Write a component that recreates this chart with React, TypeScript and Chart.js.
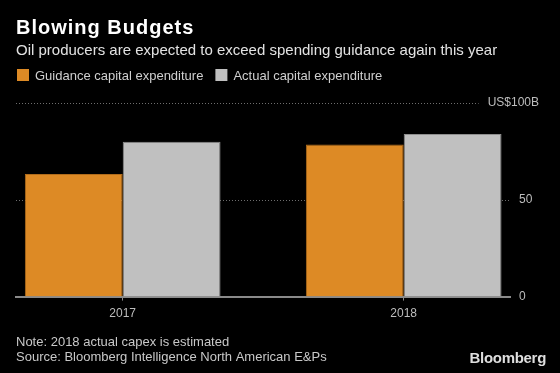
import React, { useEffect, useRef } from 'react';
import { Chart, registerables } from 'chart.js';

Chart.register(...registerables);

// ---- data ----
const years = ['2017', '2018'];
const guidance = [63.3, 78.6];
const actual = [80.0, 84.0];
const seriesNames = ['Guidance capital expenditure', 'Actual capital expenditure'];
const yTickValues = [0, 50, 100];
const yTickLabels = ['0', '50', 'US$100B'];
const titleText = 'Blowing Budgets';
const subtitleText = 'Oil producers are expected to exceed spending guidance again this year';
const footerLines = ['Note: 2018 actual capex is estimated', 'Source: Bloomberg Intelligence North American E&Ps'];
const logoText = 'Bloomberg';

// ---- styles ----
const FAMILY = '"Liberation Sans", Arial, sans-serif';
const ORANGE = '#dd8a25';
const ORANGE_EDGE = '#b06c1c';
const GRAY = '#c0c0c0';
const GRAY_EDGE = '#8e8e8e';
const AXIS = '#8a8a8a';
const GRID = '#6e6e6e';
const LABEL = '#bdbdbd';

function yLabelX(ctx: CanvasRenderingContext2D, text: string, right: number) {
  const w = ctx.measureText(text).width;
  return Math.min(right + 9, right + 29 - w);
}

const decor = {
  id: 'decor',
  beforeDatasetsDraw(chart: any) {
    const { ctx, chartArea } = chart;
    const y = chart.scales.y;
    ctx.save();
    ctx.font = `12px ${FAMILY}`;
    ctx.strokeStyle = GRID;
    ctx.lineWidth = 1;
    ctx.setLineDash([1, 2]);
    yTickValues.forEach((v, i) => {
      if (v === 0) return;
      const py = Math.round(y.getPixelForValue(v)) + 0.5;
      const lx = yLabelX(ctx, yTickLabels[i], chartArea.right);
      ctx.beginPath();
      ctx.moveTo(chartArea.left, py);
      ctx.lineTo(lx - 9, py);
      ctx.stroke();
    });
    ctx.restore();
  },
  afterDraw(chart: any) {
    const { ctx, chartArea } = chart;
    const y = chart.scales.y;
    ctx.save();
    ctx.textAlign = 'left';
    // y labels
    ctx.font = `12px ${FAMILY}`;
    ctx.fillStyle = LABEL;
    ctx.textBaseline = 'middle';
    yTickValues.forEach((v, i) => {
      const py = y.getPixelForValue(v);
      ctx.fillText(yTickLabels[i], yLabelX(ctx, yTickLabels[i], chartArea.right), py);
    });
    ctx.textBaseline = 'alphabetic';
    // title
    ctx.font = `bold 20px ${FAMILY}`;
    (ctx as any).letterSpacing = '1px';
    ctx.fillStyle = '#ffffff';
    ctx.fillText(titleText, 16, 33.5);
    (ctx as any).letterSpacing = '0px';
    // subtitle
    ctx.font = `15px ${FAMILY}`;
    ctx.fillStyle = '#e2e2e2';
    ctx.fillText(subtitleText, 16, 55);
    // legend
    ctx.font = `13px ${FAMILY}`;
    let lx = 17;
    chart.data.datasets.forEach((ds: any) => {
      ctx.fillStyle = ds.backgroundColor;
      ctx.fillRect(lx, 69, 12, 12);
      ctx.fillStyle = '#cfcfcf';
      ctx.fillText(ds.label, lx + 18, 80);
      lx += 18 + ctx.measureText(ds.label).width + 12;
    });
    // footer
    ctx.fillStyle = '#c8c8c8';
    ctx.font = `13px ${FAMILY}`;
    footerLines.forEach((line, i) => ctx.fillText(line, 16, 346 + i * 15));
    // logo
    ctx.font = `bold 15px ${FAMILY}`;
    (ctx as any).letterSpacing = '-0.3px';
    ctx.fillStyle = '#dedede';
    ctx.textAlign = 'right';
    ctx.fillText(logoText, 546, 362.5);
    ctx.restore();
  },
};

export default function App() {
  const ref = useRef<HTMLCanvasElement | null>(null);

  useEffect(() => {
    document.body.style.margin = '0';
    document.body.style.background = '#000';
    const canvas = ref.current;
    if (!canvas) return;
    const chart = new Chart(canvas, {
      type: 'bar',
      data: {
        datasets: [
          {
            label: seriesNames[0],
            data: years.map((_, i) => ({ x: i, y: guidance[i] })),
            backgroundColor: ORANGE,
            borderColor: ORANGE_EDGE,
            borderWidth: 1,
            categoryPercentage: 0.6964,
            barPercentage: 1,
          },
          {
            label: seriesNames[1],
            data: years.map((_, i) => ({ x: i, y: actual[i] })),
            backgroundColor: GRAY,
            borderColor: GRAY_EDGE,
            borderWidth: 1,
            categoryPercentage: 0.6964,
            barPercentage: 1,
          },
        ],
      },
      options: {
        animation: false,
        responsive: false,
        devicePixelRatio: 1,
        layout: { padding: { left: 16, right: 50, top: 103, bottom: 46 } },
        plugins: {
          legend: { display: false },
          tooltip: { enabled: false },
          title: { display: false },
        },
        scales: {
          x: {
            type: 'linear',
            min: -0.3797,
            max: 1.3783,
            offset: false,
            z: 1,
            afterBuildTicks: (s: any) => {
              s.ticks = years.map((_, i) => ({ value: i }));
            },
            ticks: {
              callback: (v: any) => years[v] ?? '',
              font: { size: 12, family: FAMILY },
              color: LABEL,
              padding: 6,
              maxRotation: 0,
              autoSkip: false,
              includeBounds: false,
            },
            grid: {
              display: true,
              drawOnChartArea: false,
              drawTicks: true,
              tickLength: 4,
              color: AXIS,
              offset: false,
            },
            border: { display: true, color: AXIS, width: 2 },
          },
          y: {
            display: false,
            min: 0,
            max: 100,
          },
        },
      },
      plugins: [decor],
    } as any);
    return () => chart.destroy();
  }, []);

  return (
    <div style={{ position: 'absolute', left: 0, top: 0, width: 560, height: 373, background: '#000' }}>
      <canvas ref={ref} width={560} height={373} style={{ display: 'block' }} />
    </div>
  );
}
